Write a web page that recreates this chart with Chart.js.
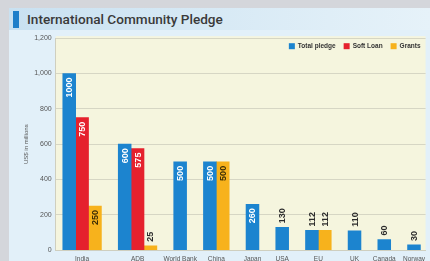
<!DOCTYPE html>
<html>
<head>
<meta charset="utf-8">
<script src="https://cdn.jsdelivr.net/npm/chart.js@4.4.1/dist/chart.umd.min.js"></script>
<style>
  body { margin: 0; width: 430px; height: 261px; overflow: hidden; background: #d4d6db; position: relative; }
  #panel { position: absolute; left: 9px; top: 8px; right: 0; bottom: 0; background: #e2f0f9; }
  #band { position: absolute; left: 9px; top: 8px; width: 421px; height: 22px;
          background: linear-gradient(to right, #c9e1f1, #e6f2f9); }
  #mark { position: absolute; left: 13px; top: 11px; width: 6px; height: 17px; background: #1f7fc9; }
  #title { position: absolute; left: 27px; top: 11px; font: 500 13.6px Roboto, sans-serif; color: #3a3a3a; white-space: nowrap; }
  #wrap { position: absolute; left: 9px; top: 30px; width: 421px; height: 246px; }
</style>
</head>
<body>
<div id="panel"></div>
<div id="band"></div>
<div id="mark"></div>
<div id="title">International Community Pledge</div>
<div id="wrap"><canvas id="pledge"></canvas></div>
<script>
// bedragen in miljoenen US$, null = geen balk
const categories = ['India', 'ADB', 'World Bank', 'China', 'Japan', 'USA', 'EU', 'UK', 'Canada', 'Norway'];
const totalPledge = [1000, 600, 500, 500, 260, 130, 112, 110, 60, 30];
const softLoan = [750, 575, null, null, null, null, null, null, null, null];
const grants = [250, 25, null, 500, null, null, 112, null, null, null];
const yTicks = [0, 200, 400, 600, 800, 1000, 1200];

const seriesNames = ['Total pledge', 'Soft Loan', 'Grants'];
const seriesValues = [totalPledge, softLoan, grants];
const seriesColors = ['#1c84cf', '#e5212d', '#f7b21c'];
const labelInside = ['#ffffff', '#ffffff', '#3a2c05'];

const font = '"Liberation Sans", Arial, sans-serif';

// balken schuiven aan elkaar per land, met een gat tussen de landen (in balkbreedtes)
const gap = 1.31;
const points = [[], [], []];
const centers = [];
let cursor = 0;
categories.forEach((c, i) => {
  const slots = [];
  seriesValues.forEach((vals, s) => {
    if (vals[i] !== null) {
      points[s].push({ x: cursor, y: vals[i] });
      slots.push(cursor);
      cursor += 1;
    }
  });
  centers.push((slots[0] + slots[slots.length - 1]) / 2);
  cursor += gap;
});
const lastSlot = cursor - gap - 1;

const plotBg = {
  id: 'plotBg',
  beforeDraw(chart) {
    const a = chart.chartArea, ctx = chart.ctx;
    ctx.save();
    ctx.fillStyle = '#f5f5de';
    ctx.fillRect(a.left, a.top - 2, a.right - a.left, a.bottom - a.top + 2);
    ctx.restore();
  }
};

// legenda rechtsboven binnen het plotvlak
const innerLegend = {
  id: 'innerLegend',
  afterDraw(chart) {
    const a = chart.chartArea, ctx = chart.ctx;
    ctx.save();
    ctx.font = 'bold 6.5px ' + font;
    ctx.textBaseline = 'middle';
    ctx.textAlign = 'left';
    const y = a.top + 8;
    let x = a.right - 5;
    for (let s = seriesNames.length - 1; s >= 0; s--) {
      const w = ctx.measureText(seriesNames[s]).width;
      x -= w;
      ctx.fillStyle = '#333';
      ctx.fillText(seriesNames[s], x, y);
      x -= 9;
      ctx.fillStyle = seriesColors[s];
      ctx.fillRect(x, y - 3, 6, 6);
      x -= 8;
    }
    ctx.restore();
  }
};

const barLabels = {
  id: 'barLabels',
  afterDatasetsDraw(chart) {
    const ctx = chart.ctx;
    ctx.save();
    ctx.font = 'bold 9px ' + font;
    ctx.textBaseline = 'middle';
    chart.data.datasets.forEach((ds, d) => {
      chart.getDatasetMeta(d).data.forEach((bar, j) => {
        const txt = String(ds.data[j].y);
        const w = ctx.measureText(txt).width;
        const h = bar.base - bar.y;
        ctx.save();
        if (h > w + 14) {
          ctx.translate(bar.x + 0.5, bar.y + 4);
          ctx.rotate(-Math.PI / 2);
          ctx.textAlign = 'right';
          ctx.fillStyle = labelInside[d];
        } else {
          ctx.translate(bar.x + 0.5, bar.y - 4);
          ctx.rotate(-Math.PI / 2);
          ctx.textAlign = 'left';
          ctx.fillStyle = '#2b2b2b';
        }
        ctx.fillText(txt, 0, 0);
        ctx.restore();
      });
    });
    ctx.restore();
  }
};

const data = {
  datasets: seriesNames.map((name, s) => ({
    label: name,
    data: points[s],
    backgroundColor: seriesColors[s],
    borderWidth: 0,
    grouped: false,
    categoryPercentage: 1,
    barPercentage: 1
  }))
};

const config = {
  type: 'bar',
  data: data,
  options: {
    responsive: true,
    maintainAspectRatio: false,
    animation: false,
    layout: { padding: { left: 12, top: 6, right: 0, bottom: 8 } },
    plugins: {
      legend: { display: false },
      tooltip: { enabled: false }
    },
    scales: {
      x: {
        type: 'linear',
        offset: false,
        min: -1.05,
        max: lastSlot + 0.9,
        afterBuildTicks(axis) {
          axis.ticks = centers.map(v => ({ value: v }));
        },
        ticks: {
          autoSkip: false,
          maxRotation: 0,
          padding: 5,
          color: '#555',
          font: { size: 6.5, family: font },
          callback: (v, i) => categories[i]
        },
        grid: { display: false, drawTicks: false },
        border: { display: true, color: '#cfcfbf' }
      },
      y: {
        min: 0,
        max: 1200,
        afterBuildTicks(axis) {
          axis.ticks = yTicks.map(v => ({ value: v }));
        },
        ticks: {
          padding: 4,
          color: '#555',
          font: { size: 7, family: font },
          callback: v => v.toLocaleString('en-US')
        },
        grid: { color: '#d6d6c4', drawTicks: false },
        border: { display: true, color: '#cfcfbf' },
        title: {
          display: true,
          text: 'US$ in millions',
          color: '#555',
          padding: { top: 2, bottom: 0 },
          font: { size: 6, family: font }
        }
      }
    }
  },
  plugins: [plotBg, barLabels, innerLegend]
};

const myChart = new Chart(document.getElementById('pledge'), config);
</script>
</body>
</html>
